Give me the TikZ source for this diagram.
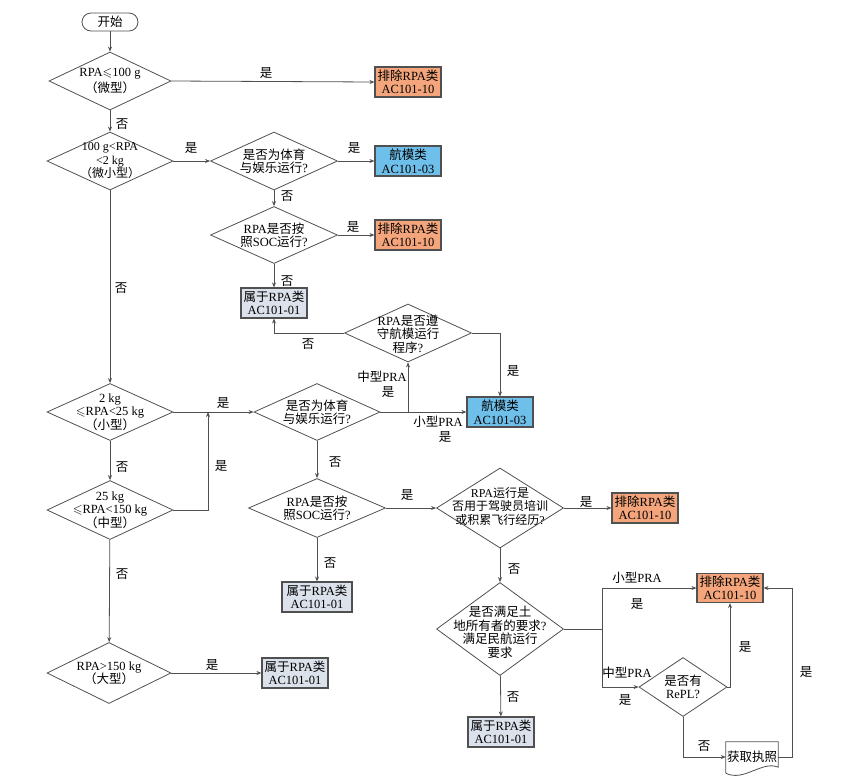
\documentclass[tikz,border=0pt]{standalone}
\usepackage{fontspec}
\usepackage{amssymb}
\setmainfont{Liberation Serif}
\newfontfamily\zh{Noto Sans CJK SC}
\newcommand\z[1]{{\zh #1}}
\newcommand\tightlines{\lineskiplimit=-20pt\relax}
\usetikzlibrary{shapes.geometric,arrows.meta,calc}
\definecolor{ln}{HTML}{505050}
\definecolor{orng}{HTML}{F4A57B}
\definecolor{blu}{HTML}{6EBFEA}
\definecolor{gry}{HTML}{DCE2EB}
\begin{document}
\begin{tikzpicture}[x=1pt,y=-1pt,
  font={\fontsize{12.5}{13.5}\selectfont\tightlines},
  line/.style={draw=ln, line width=0.8pt},
  arr/.style={line, -{Stealth[length=5pt,width=4pt]}},
  dia/.style={diamond, draw=ln, line width=0.8pt, inner sep=0pt},
  txt/.style={align=center, inner sep=0pt},
  box/.style={rectangle, draw=ln, line width=1.1pt, minimum width=66pt, minimum height=30pt, align=center, inner sep=1pt},
  ob/.style={box, fill=orng}, bb/.style={box, fill=blu}, gb/.style={box, fill=gry},
  lab/.style={inner sep=1pt},
]
\useasboundingbox (0,0) rectangle (850,780);
% start
\node[draw=ln, line width=0.8pt, rounded corners=9pt, minimum width=56pt, minimum height=18pt, inner sep=0pt] (start) at (110,22) {\z{开始}};
% diamonds
\node[dia, minimum width=122pt, minimum height=58pt] (d1) at (110,81) {};
\node[txt] at (d1) {RPA$\leqslant$100 g\\[2pt]\z{（微型）}};
\node[dia, minimum width=126pt, minimum height=58pt] (d2) at (110,161) {};
\node[txt, font={\fontsize{12}{13.5}\selectfont\tightlines}] at (d2) {100 g<RPA\\<2 kg\\\z{（微小型）}};
\node[dia, minimum width=127pt, minimum height=58pt] (d3) at (274,161) {};
\node[txt] at (d3) {\z{是否为体育}\\\z{与娱乐运行}?};
\node[dia, minimum width=127pt, minimum height=57pt] (d4) at (274,235) {};
\node[txt] at (d4) {RPA\z{是否按}\\\z{照}SOC\z{运行}?};
\node[dia, minimum width=127pt, minimum height=58pt] (d8) at (408,333) {};
\node[txt] at ($(d8)+(0,1)$) {RPA\z{是否遵}\\\z{守航模运行}\\\z{程序}?};
\node[dia, minimum width=126pt, minimum height=57pt] (d5) at (110,412) {};
\node[txt] at (d5) {2 kg\\$\leqslant$RPA<25 kg\\\z{（小型）}};
\node[dia, minimum width=126pt, minimum height=57pt] (d6) at (317,412) {};
\node[txt] at (d6) {\z{是否为体育}\\\z{与娱乐运行}?};
\node[dia, minimum width=126pt, minimum height=59pt] (d7) at (110,510) {};
\node[txt] at (d7) {25 kg\\$\leqslant$RPA<150 kg\\\z{（中型）}};
\node[dia, minimum width=137pt, minimum height=59pt] (d9) at (317,508) {};
\node[txt] at (d9) {RPA\z{是否按}\\\z{照}SOC\z{运行}?};
\node[dia, minimum width=127pt, minimum height=80pt] (d10) at (500,508) {};
\node[txt, font={\fontsize{12}{13.5}\selectfont\tightlines}] at ($(d10)+(0,-2)$) {RPA\z{运行是}\\\z{否用于驾驶员培训}\\\z{或积累飞行经历}?};
\node[dia, minimum width=127pt, minimum height=93pt] (d11) at (500,629) {};
\node[txt] at ($(d11)+(0,3)$) {\z{是否满足土}\\\z{地所有者的要求}?\\\z{满足民航运行}\\\z{要求}};
\node[dia, minimum width=88pt, minimum height=59pt] (d12) at (683,687) {};
\node[txt] at (d12) {\z{是否有}\\RePL?};
\node[dia, minimum width=124pt, minimum height=61pt] (d13) at (109,673) {};
\node[txt] at (d13) {RPA>150 kg\\\z{（大型）}};
% boxes
\node[ob] (bx1) at (408,82) {\z{排除}RPA\z{类}\\AC101-10};
\node[bb] (bx2) at (408,161) {\z{航模类}\\AC101-03};
\node[ob] (bx3) at (408,235) {\z{排除}RPA\z{类}\\AC101-10};
\node[gb] (bx4) at (274,303) {\z{属于}RPA\z{类}\\AC101-01};
\node[bb] (bx5) at (500,412) {\z{航模类}\\AC101-03};
\node[ob] (bx6) at (645,508) {\z{排除}RPA\z{类}\\AC101-10};
\node[gb, minimum width=70pt] (bx7) at (317,597) {\z{属于}RPA\z{类}\\AC101-01};
\node[gb] (bx8) at (501,732) {\z{属于}RPA\z{类}\\AC101-01};
\node[ob, minimum height=29pt] (bx9) at (730,588) {\z{排除}RPA\z{类}\\AC101-10};
\node[gb] (bx10) at (295,673) {\z{属于}RPA\z{类}\\AC101-01};
% document shape
\node[minimum width=52pt, minimum height=30pt, inner sep=0pt] (doc) at (752,757) {\z{获取执照}};
\draw[line] ($(doc.south west)+(0,1)$) -- (doc.north west) -- (doc.north east) -- ($(doc.south east)+(0,-5)$)
  .. controls ($(doc.south east)+(-16,-12)$) and ($(doc.south west)+(18,10)$) .. ($(doc.south west)+(0,1)$);
% junctions
\coordinate (j1) at (208,412);
\coordinate (j2) at (408,412);
\coordinate (j3) at (602,629);
\coordinate (j4) at (792,757);
% connectors
\draw[arr] (start) -- (d1);
\draw[arr] (d1.east) -- (bx1.west);
\draw[arr] (d1) -- (d2);
\draw[arr] (d2) -- (d3);
\draw[arr] (d3) -- (bx2);
\draw[arr] (d3) -- (d4);
\draw[arr] (d4) -- (bx3);
\draw[arr] (d4) -- (bx4);
\draw[arr] (d2) -- (d5);
\draw[arr] (d5) -- (d6);
\draw[arr] (d5) -- (d7);
\draw[arr] (d7.east) -| (j1);
\draw[arr] (d6) -- (bx5);
\draw[arr] (j2) -- (d8.south);
\draw[arr] (d8.west) -| (bx4.south);
\draw[arr] (d8.east) -| (bx5.north);
\draw[arr] (d6) -- (d9);
\draw[arr] (d9) -- (d10);
\draw[arr] (d9) -- (bx7);
\draw[arr] (d10) -- (bx6);
\draw[arr] (d10) -- (d11);
\draw[arr] (d11) -- (bx8);
\draw[arr] (d7) -- (d13);
\draw[arr] (d13) -- (bx10);
\draw[line] (d11.east) -- (j3);
\draw[arr] (j3) |- (bx9.west);
\draw[arr] (j3) |- (d12.west);
\draw[arr] (d12.east) -| (bx9.south);
\draw[arr] (d12.south) |- (doc.west);
\draw[arr] (doc.east) -- (j4) |- (bx9.east);
% labels
\node[lab] at (266,73) {\z{是}};
\node[lab] at (122,124) {\z{否}};
\node[lab] at (191,148) {\z{是}};
\node[lab] at (354,148) {\z{是}};
\node[lab] at (287,196) {\z{否}};
\node[lab] at (353,227) {\z{是}};
\node[lab] at (287,281) {\z{否}};
\node[lab] at (121,288) {\z{否}};
\node[lab] at (223,403) {\z{是}};
\node[lab] at (122,467) {\z{否}};
\node[lab] at (221,466) {\z{是}};
\node[lab] at (308,344) {\z{否}};
\node[lab] at (513,371) {\z{是}};
\node[lab] at (382,377) {\z{中型}PRA};
\node[lab] at (388,392) {\z{是}};
\node[lab] at (438,422) {\z{小型}PRA};
\node[lab] at (445,437) {\z{是}};
\node[lab] at (335,462) {\z{否}};
\node[lab] at (407,495) {\z{是}};
\node[lab] at (330,563) {\z{否}};
\node[lab] at (586,502) {\z{是}};
\node[lab] at (514,569) {\z{否}};
\node[lab] at (513,697) {\z{否}};
\node[lab] at (637,578) {\z{小型}PRA};
\node[lab] at (637,604) {\z{是}};
\node[lab] at (627,673) {\z{中型}PRA};
\node[lab] at (625,700) {\z{是}};
\node[lab] at (745,647) {\z{是}};
\node[lab] at (704,746) {\z{否}};
\node[lab] at (806,672) {\z{是}};
\node[lab] at (122,574) {\z{否}};
\node[lab] at (212,665) {\z{是}};
\end{tikzpicture}
\end{document}
